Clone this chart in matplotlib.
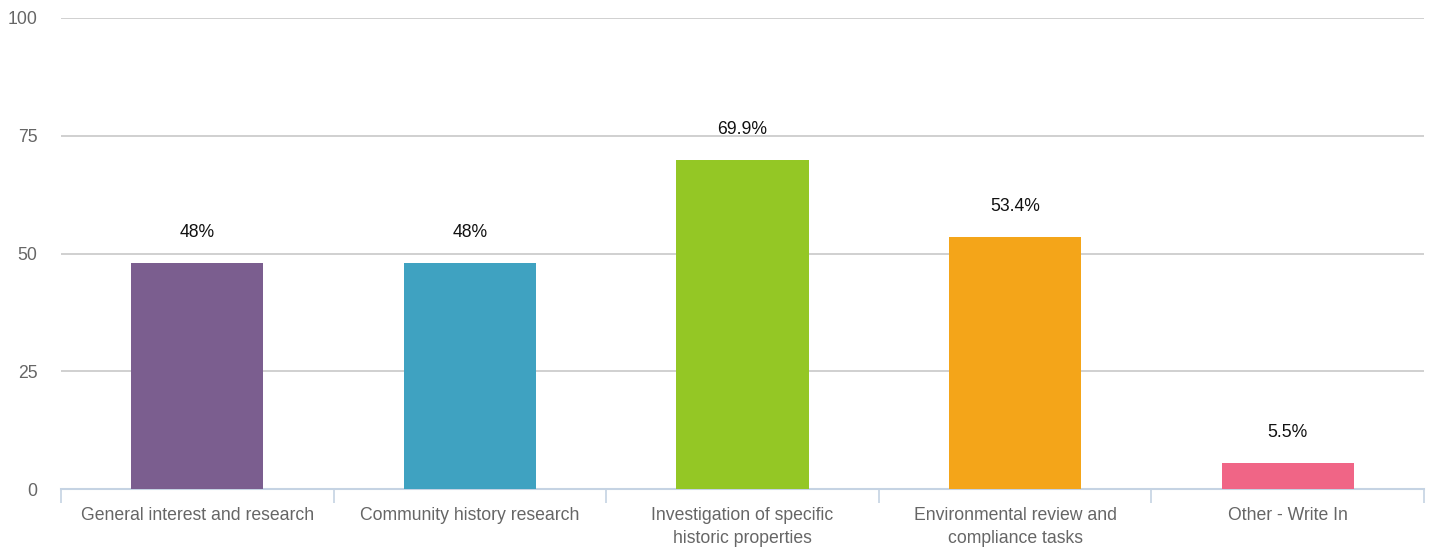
import matplotlib.pyplot as plt
import numpy as np

plt.rcParams['font.family'] = ['Liberation Sans', 'DejaVu Sans']

categories = ['General interest and research', 'Community history research',
              'Investigation of specific\nhistoric properties',
              'Environmental review and\ncompliance tasks', 'Other - Write In']
values = [48, 48, 69.9, 53.4, 5.5]
value_labels = ['48%', '48%', '69.9%', '53.4%', '5.5%']
colors = ['#7B5E8F', '#3FA2C1', '#94C725', '#F4A519', '#F06586']
yticks = [0, 25, 50, 75, 100]

fig = plt.figure(figsize=(14.33, 5.48), dpi=100)
ax = fig.add_axes([61 / 1433, 59 / 548, (1424 - 61) / 1433, (489 - 18) / 548])

x = np.arange(len(categories))
ax.bar(x, values, width=0.485, color=colors, zorder=3)

for xi, v, lab in zip(x, values, value_labels):
    ax.annotate(lab, (xi, v), xytext=(0, 16), textcoords='offset points',
                ha='center', va='bottom', fontsize=12.7, color='#111111')

ax.set_xlim(-0.5, len(categories) - 0.5)
ax.set_ylim(0, 100)
ax.set_yticks(yticks)
ax.yaxis.grid(True, color='#c8c8c8', linewidth=1.2, zorder=0)
ax.tick_params(axis='y', length=0, pad=17, labelsize=12.7, labelcolor='#666666')

ax.set_xticks(x)
ax.set_xticklabels(categories, fontsize=12.7, color='#666666', linespacing=1.45)
ax.tick_params(axis='x', which='major', length=0, pad=13)
ax.set_xticks(np.arange(-0.5, len(categories)), minor=True)
ax.tick_params(axis='x', which='minor', length=10, width=1.2, color='#c5d3e3')

for s in ['top', 'right', 'left']:
    ax.spines[s].set_visible(False)
ax.spines['bottom'].set_color('#c5d3e3')
ax.spines['bottom'].set_linewidth(1.5)

fig.savefig('out.png', dpi=100)
